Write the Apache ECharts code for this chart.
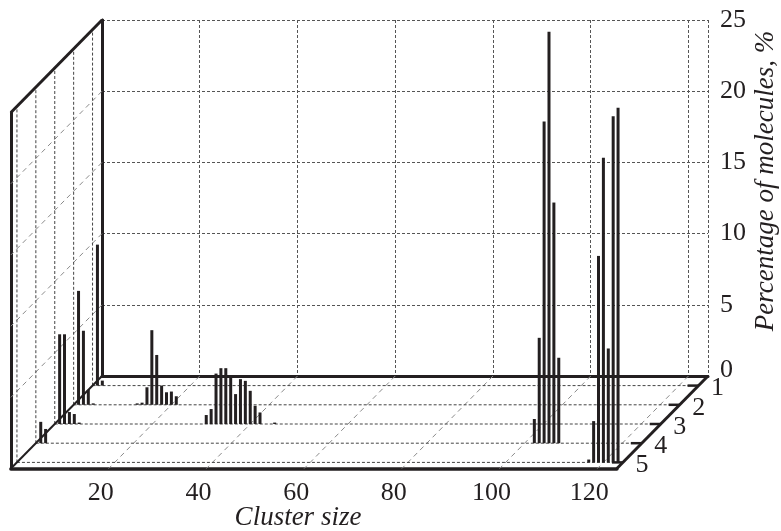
<!DOCTYPE html>
<html>
<head>
<meta charset="utf-8">
<title>Cluster size distribution</title>
<script src="https://cdn.jsdelivr.net/npm/echarts@6/dist/echarts.min.js"></script>
<style>
    html, body { margin: 0; padding: 0; background: #fff; }
    #chart { width: 781px; height: 531px; }
</style>
</head>
<body>
<div id="chart"></div>
<script>
// depth rows, 1 = back, 5 = front
const rows = [1, 2, 3, 4, 5];
const xTicks = [20, 40, 60, 80, 100, 120];
const yTicks = [5, 10, 15, 20];

// [cluster size, percentage of molecules] for every row
const row1 = [[1, 9.9], [2, 0.35]];
const row2 = [[1, 8.0], [2, 5.2], [3, 1.05], [4, 0.1], [13, 0.1], [14, 0.15], [15, 1.23], [16, 5.24],
    [17, 3.5], [18, 1.35], [19, 0.88], [20, 0.93], [21, 0.6]];
const row3 = [[1, 6.3], [2, 6.3], [3, 0.84], [4, 0.7], [5, 0.1], [31, 0.63], [32, 1.05], [33, 3.54],
    [34, 3.92], [35, 3.92], [36, 3.3], [37, 2.1], [38, 3.15], [39, 3.03], [40, 2.33], [41, 1.28],
    [42, 0.81], [45, 0.1]];
const row4 = [[1, 1.5], [2, 1.0], [102, 1.7], [103, 7.4], [104, 22.6], [105, 28.9], [106, 16.9], [107, 6.0]];
const row5 = [[117, 0.2], [118, 2.9], [119, 14.5], [120, 21.4], [121, 8.0], [122, 24.3], [123, 24.9]];

const X_MAX = 124;
const Y_MAX = 25;
const FRONT = 4.82;      // depth of the front edge of the floor
const DX = -18.9;        // pixel shift per depth unit
const DY = 19.2;
const INK = '#231f20';
const FONT = '"Liberation Serif", "DejaVu Serif", serif';

const chart = echarts.init(document.getElementById('chart'));

// shift a point of the back wall towards the viewer
function project(api, x, y, d) {
    let p = api.coord([x, y]);
    return [p[0] + d * DX, p[1] + d * DY];
}

const styles = [
    { stroke: '#444', lineWidth: 1, lineDash: [3, 2] },          // floor rows / left wall verticals
    { stroke: '#8a8a8a', lineWidth: 1, lineDash: [5, 4] },       // diagonals
    { stroke: INK, lineWidth: 2 },                               // thin edges
    { stroke: INK, lineWidth: 3 }                                // thick edges
];

// frame segments: [x1, y1, d1, x2, y2, d2, style]
let segments = [];
xTicks.forEach(x => segments.push([x, 0, 0, x, 0, FRONT, 1]));
yTicks.forEach(y => segments.push([0, y, 0, 0, y, FRONT, 1]));
rows.forEach(r => {
    segments.push([0, 0, r - 0.5, X_MAX, 0, r - 0.5, 0]);
    segments.push([0, 0, r - 0.5, 0, Y_MAX, r - 0.5, 0]);
});
segments.push([0, 0, 0, 0, 0, FRONT, 2]);
segments.push([0, Y_MAX, 0, 0, Y_MAX, FRONT, 3]);
segments.push([X_MAX, 0, 0, X_MAX, 0, FRONT, 3]);

let bars = [];
[row1, row2, row3, row4, row5].forEach((list, i) => {
    list.forEach(item => bars.push([item[0], item[1], rows[i]]));
});

function renderSegment (params, api) {
    let a = project(api, api.value(0), api.value(1), api.value(2));
    let b = project(api, api.value(3), api.value(4), api.value(5));
    return {
        type: 'line',
        silent: true,
        shape: { x1: a[0], y1: a[1], x2: b[0], y2: b[1] },
        style: styles[api.value(6)]
    };
}

function renderBar (params, api) {
    let d = api.value(2) - 0.5;
    let a = project(api, api.value(0), 0, d);
    let b = project(api, api.value(0), api.value(1), d);
    return {
        type: 'line',
        shape: { x1: a[0], y1: a[1], x2: b[0], y2: b[1] },
        style: { stroke: INK, lineWidth: 3 }
    };
}

function renderDepth (params, api) {
    let d = api.value(0) - 0.5;
    let p = project(api, X_MAX, 0, d);
    return {
        type: 'group',
        children: [{
            type: 'line',
            shape: { x1: p[0] - 11, y1: p[1], x2: p[0], y2: p[1] },
            style: { stroke: INK, lineWidth: 2.5 }
        }, {
            type: 'text',
            x: p[0] + 19,
            y: p[1] + 3,
            style: {
                text: String(api.value(0)),
                font: '26px ' + FONT,
                fill: INK,
                align: 'center',
                verticalAlign: 'middle'
            }
        }]
    };
}

chart.setOption({
    animation: false,
    grid: [
        { left: 102, top: 20, width: 606, height: 356, outerBoundsMode: 'none' },
        { left: 102 + FRONT * DX, top: 20 + FRONT * DY, width: 606, height: 356, outerBoundsMode: 'none' }
    ],
    xAxis: [{
        gridIndex: 0, type: 'value', min: 0, max: X_MAX, interval: 20, position: 'bottom',
        axisLine: { lineStyle: { color: '#333', width: 1.5 } },
        axisTick: { show: false },
        axisLabel: { show: false },
        splitLine: { show: true, lineStyle: { color: '#555', width: 1, type: [3, 2] } }
    }, {
        gridIndex: 0, type: 'value', min: 0, max: X_MAX, position: 'top',
        axisLine: { lineStyle: { color: INK, width: 3 } },
        axisTick: { show: false }, axisLabel: { show: false }, splitLine: { show: false }
    }, {
        gridIndex: 1, type: 'value', min: 0, max: X_MAX, interval: 20, position: 'bottom',
        axisLine: { lineStyle: { color: INK, width: 3.5 } },
        axisTick: { show: false },
        axisLabel: {
            margin: 12, fontSize: 26, fontFamily: FONT, color: INK,
            padding: [0, 16, 0, 0],
            formatter: v => (v > 0 ? String(v) : '')
        },
        splitLine: { show: false }
    }],
    yAxis: [{
        gridIndex: 0, type: 'value', min: 0, max: Y_MAX, interval: 5, position: 'right',
        axisLine: { show: true, lineStyle: { color: INK, width: 3 } },
        axisTick: { show: false },
        axisLabel: {
            margin: 12, fontSize: 26, fontFamily: FONT, color: INK, align: 'left',
            formatter: v => (v === 0 ? '{zero|0}' : String(v)),
            rich: { zero: { fontSize: 26, fontFamily: FONT, color: INK, padding: [0, 0, 12, 0] } }
        },
        splitLine: { show: true, lineStyle: { color: '#555', width: 1, type: [3, 2] } }
    }, {
        gridIndex: 0, type: 'value', min: 0, max: Y_MAX, position: 'left',
        axisLine: { show: true, lineStyle: { color: INK, width: 2.5 } },
        axisTick: { show: false }, axisLabel: { show: false }, splitLine: { show: false }
    }, {
        gridIndex: 1, type: 'value', min: 0, max: Y_MAX, position: 'left',
        axisLine: { show: true, lineStyle: { color: INK, width: 3 } },
        axisTick: { show: false }, axisLabel: { show: false }, splitLine: { show: false }
    }],
    graphic: [{
        type: 'text', x: 766, y: 181, rotation: Math.PI / 2,
        style: {
            text: 'Percentage of molecules, %', font: 'italic 27px ' + FONT,
            fill: INK, align: 'center', verticalAlign: 'middle'
        }
    }, {
        type: 'text', x: 298, y: 518,
        style: {
            text: 'Cluster size', font: 'italic 27px ' + FONT,
            fill: INK, align: 'center', verticalAlign: 'middle'
        }
    }],
    series: [{
        type: 'custom', name: 'frame', xAxisIndex: 0, yAxisIndex: 0,
        clip: false, silent: true, z: 1,
        renderItem: renderSegment, data: segments
    }, {
        type: 'custom', name: 'depth', xAxisIndex: 0, yAxisIndex: 0,
        clip: false, silent: true, z: 3,
        renderItem: renderDepth, data: rows.map(r => [r])
    }, {
        type: 'custom', name: 'bars', xAxisIndex: 0, yAxisIndex: 0,
        clip: false, z: 4,
        renderItem: renderBar, data: bars
    }]
});
</script>
</body>
</html>
